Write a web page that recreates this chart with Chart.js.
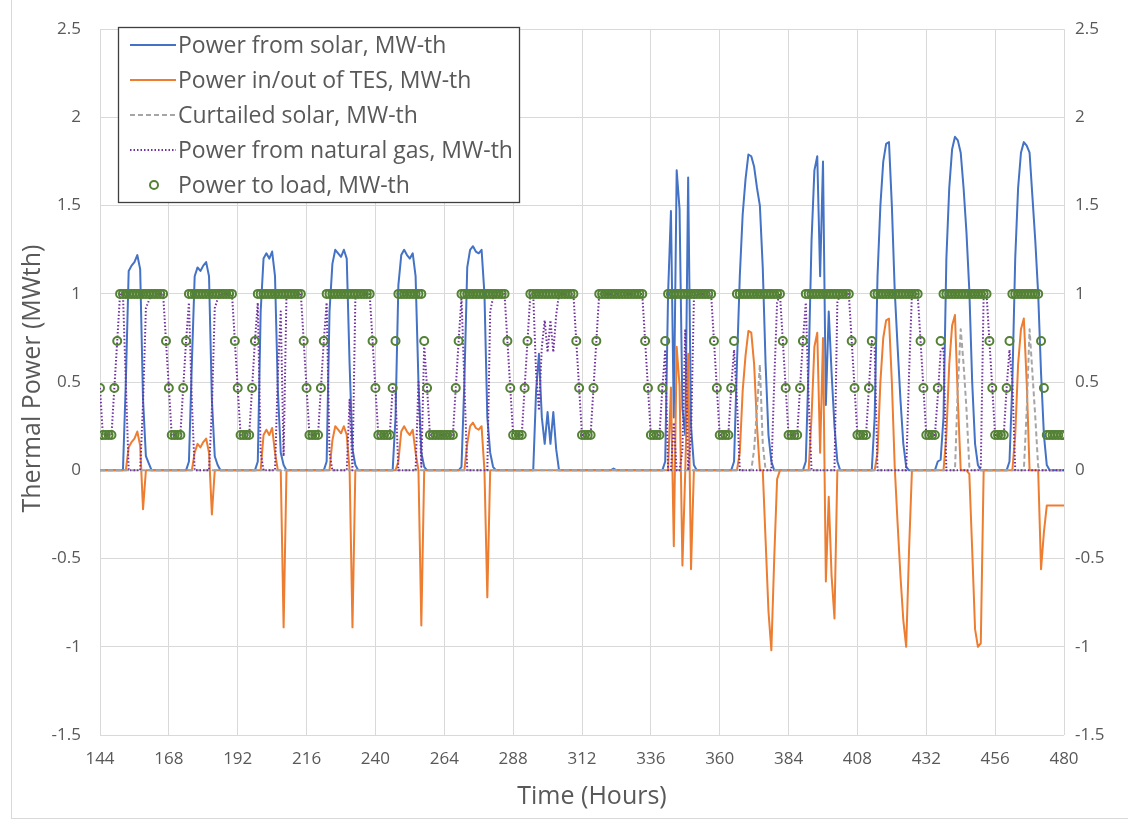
<!DOCTYPE html>
<html><head><meta charset="utf-8">
<script src="https://cdn.jsdelivr.net/npm/chart.js@4.4.1/dist/chart.umd.min.js"></script>
<style>
html,body{margin:0;padding:0;background:#fff;}
#wrap{position:relative;width:1128px;height:840px;overflow:hidden;}
#frame{position:absolute;left:11px;top:-2px;width:1130px;height:821px;border-left:1px solid #d9d9d9;border-bottom:1px solid #d9d9d9;box-sizing:border-box;}
canvas{display:block;position:absolute;left:0;top:0;}
</style></head><body>
<div id="wrap"><div id="frame"></div><canvas id="c" width="1128" height="840"></canvas></div>
<script>
// ---- axis ticks ----
const xTicks = [144,168,192,216,240,264,288,312,336,360,384,408,432,456,480];
const yTicks = [-1.5,-1,-0.5,0,0.5,1,1.5,2,2.5];
// hourly time stamps 144..480
const hours = [];
for (let h = 144; h <= 480; h++) hours.push(h);

// ---- series (one row per day, 24 hourly values; last value = hour 480) ----
const solar = [
0,0,0,0,0,0,0,0,0,0.5,1.13,1.16,1.18,1.22,1.14,0.4,0.08,0.04,0,0,0,0,0,0,
0,0,0,0,0,0,0,0.05,0.6,1.1,1.15,1.13,1.16,1.18,1.1,0.4,0.08,0.03,0,0,0,0,0,0,
0,0,0,0,0,0,0,0.05,0.9,1.2,1.23,1.2,1.24,1.1,0.45,0.1,0.03,0,0,0,0,0,0,0,
0,0,0,0,0,0,0,0.05,0.9,1.17,1.25,1.23,1.21,1.25,1.2,0.6,0.12,0.03,0,0,0,0,0,0,
0,0,0,0,0,0,0,0.3,1.05,1.22,1.25,1.22,1.2,1.23,1.1,0.5,0.1,0.02,0,0,0,0,0,0,
0,0,0,0,0,0,0.02,0.5,1.15,1.25,1.27,1.24,1.23,1.25,1.0,0.3,0.1,0.02,0,0,0,0,0,0,
0,0,0,0,0,0,0,0,0.45,0.66,0.3,0.15,0.33,0.15,0.33,0.12,0,0,0,0,0,0,0,0,
0,0,0,0,0,0,0,0,0,0,0,0.01,0,0,0,0,0,0,0,0,0,0,0,0,
0,0,0,0,0,0.05,1.0,1.47,0.3,1.7,1.48,0.35,0.2,1.66,0.25,0.03,0,0,0,0,0,0,0,0,
0,0,0,0,0,0.05,0.6,1.1,1.45,1.65,1.79,1.78,1.72,1.6,1.5,1.15,0.6,0.2,0.05,0,0,0,0,0,
0,0,0,0,0,0,0.05,0.6,1.3,1.7,1.78,1.1,1.75,0.37,0.9,0.55,0.25,0.05,0,0,0,0,0,0,
0,0,0,0,0,0,0.3,1.1,1.5,1.75,1.85,1.86,1.5,1.02,0.7,0.4,0.15,0.02,0,0,0,0,0,0,
0,0,0,0,0.05,0.06,0.3,1.2,1.6,1.82,1.89,1.87,1.8,1.6,1.35,1.02,0.5,0.15,0.03,0,0,0,0,0,
0,0,0,0,0,0.05,0.5,1.2,1.6,1.8,1.86,1.84,1.8,1.55,1.3,1.0,0.55,0.2,0.03,0,0,0,0,0,
0];
const tes = [
0,0,0,0,0,0,0,0,0,0,0.13,0.16,0.18,0.22,0.14,-0.22,0,0,0,0,0,0,0,0,
0,0,0,0,0,0,0,0,0,0.1,0.15,0.13,0.16,0.18,0.1,-0.25,0,0,0,0,0,0,0,0,
0,0,0,0,0,0,0,0,0,0.2,0.23,0.2,0.24,0.1,0,0,-0.89,0,0,0,0,0,0,0,
0,0,0,0,0,0,0,0,0,0.17,0.25,0.23,0.21,0.25,0.2,0,-0.89,0,0,0,0,0,0,0,
0,0,0,0,0,0,0,0,0.05,0.22,0.25,0.22,0.2,0.23,0.1,0,-0.88,0,0,0,0,0,0,0,
0,0,0,0,0,0,0,0,0.15,0.25,0.27,0.24,0.23,0.25,0,-0.72,0,0,0,0,0,0,0,0,
0,0,0,0,0,0,0,0,0,0,0,0,0,0,0,0,0,0,0,0,0,0,0,0,
0,0,0,0,0,0,0,0,0,0,0,0,0,0,0,0,0,0,0,0,0,0,0,0,
0,0,0,0,0,0,0,0.47,-0.43,0.7,0.48,-0.54,0,0.66,-0.56,0,0,0,0,0,0,0,0,0,
0,0,0,0,0,0,0,0.1,0.45,0.65,0.79,0.78,0.6,0.25,0,0,-0.4,-0.8,-1.02,-0.5,-0.05,0,0,0,
0,0,0,0,0,0,0,0,0.3,0.7,0.78,0.1,0.75,-0.63,-0.15,-0.6,-0.84,0,0,0,0,0,0,0,
0,0,0,0,0,0,0,0.1,0.5,0.75,0.85,0.86,0.5,0.02,-0.3,-0.6,-0.85,-1.0,-0.45,0,0,0,0,0,
0,0,0,0,0,0,0,0.2,0.6,0.82,0.88,0.4,0,0,0,-0.02,-0.45,-0.9,-1.0,-0.98,0,0,0,0,
0,0,0,0,0,0,0,0.2,0.6,0.8,0.86,0.5,0,0,0,0,-0.56,-0.35,-0.2,-0.2,-0.2,-0.2,-0.2,-0.2,
-0.2];
const curtailed = [
0,0,0,0,0,0,0,0,0,0,0,0,0,0,0,0,0,0,0,0,0,0,0,0,
0,0,0,0,0,0,0,0,0,0,0,0,0,0,0,0,0,0,0,0,0,0,0,0,
0,0,0,0,0,0,0,0,0,0,0,0,0,0,0,0,0,0,0,0,0,0,0,0,
0,0,0,0,0,0,0,0,0,0,0,0,0,0,0,0,0,0,0,0,0,0,0,0,
0,0,0,0,0,0,0,0,0,0,0,0,0,0,0,0,0,0,0,0,0,0,0,0,
0,0,0,0,0,0,0,0,0,0,0,0,0,0,0,0,0,0,0,0,0,0,0,0,
0,0,0,0,0,0,0,0,0,0,0,0,0,0,0,0,0,0,0,0,0,0,0,0,
0,0,0,0,0,0,0,0,0,0,0,0,0,0,0,0,0,0,0,0,0,0,0,0,
0,0,0,0,0,0,0,0,0,0,0,0,0,0,0,0,0,0,0,0,0,0,0,0,
0,0,0,0,0,0,0,0,0,0,0,0,0.12,0.35,0.6,0.15,0,0,0,0,0,0,0,0,
0,0,0,0,0,0,0,0,0,0,0,0,0,0,0,0,0,0,0,0,0,0,0,0,
0,0,0,0,0,0,0,0,0,0,0,0,0,0,0,0,0,0,0,0,0,0,0,0,
0,0,0,0,0,0,0,0,0,0,0,0.47,0.8,0.6,0.35,0.02,0,0,0,0,0,0,0,0,
0,0,0,0,0,0,0,0,0,0,0,0.34,0.8,0.55,0.3,0.02,0,0,0,0,0,0,0,0,
0];
const gas = [
0.467,0.2,0.2,0.2,0.2,0.467,0.733,1,1,0.5,0,0,0,0,0,0.38,0.92,0.96,1,1,1,1,1,0.733,
0.467,0.2,0.2,0.2,0.2,0.467,0.733,0.95,0.4,0,0,0,0,0,0,0.35,0.92,0.97,1,1,1,1,1,0.733,
0.467,0.2,0.2,0.2,0.2,0.467,0.733,0.95,0.1,0,0,0,0,0,0.55,0.9,0.08,1,1,1,1,1,1,0.733,
0.467,0.2,0.2,0.2,0.2,0.467,0.733,0.95,0.1,0,0,0,0,0,0,0.4,0,0.97,1,1,1,1,1,0.733,
0.467,0.2,0.2,0.2,0.2,0.2,0.467,0.43,0,0,0,0,0,0,0,0.5,0.02,0.71,0.467,0.2,0.2,0.2,0.2,0.2,
0.2,0.2,0.2,0.2,0.467,0.733,0.98,0.5,0,0,0,0,0,0,0,0,0.9,0.98,1,1,1,1,0.733,0.467,
0.2,0.2,0.2,0.2,0.467,0.733,1,1,0.55,0.34,0.7,0.85,0.67,0.85,0.67,0.88,1,1,1,1,1,1,0.733,0.467,
0.2,0.2,0.2,0.2,0.467,0.733,1,1,1,1,1,0.99,1,1,1,1,1,1,1,1,1,1,0.733,0.467,
0.2,0.2,0.2,0.2,0.467,0.683,0,0,0.27,0,0,0.11,0.8,0,0.19,0.97,1,1,1,1,1,1,0.733,0.467,
0.2,0.2,0.2,0.2,0.467,0.683,0.4,0,0,0,0,0,0,0,0,0,0,0,0,0.5,0.95,1,0.733,0.467,
0.2,0.2,0.2,0.2,0.467,0.733,0.95,0.4,0,0,0,0,0,0,0,0,0,0.95,1,1,1,1,0.733,0.467,
0.2,0.2,0.2,0.2,0.467,0.733,0.7,0,0,0,0,0,0,0,0,0,0,0,0.55,1,1,1,0.733,0.467,
0.2,0.2,0.2,0.2,0.417,0.673,0.7,0,0,0,0,0,0,0,0,0,0,0,0,0.02,1,1,0.733,0.467,
0.2,0.2,0.2,0.2,0.467,0.683,0.5,0,0,0,0,0,0,0,0,0,0,0,0,0,0,0,0,0,
0];
const load = [
0.467,0.2,0.2,0.2,0.2,0.467,0.733,1,1,1,1,1,1,1,1,1,1,1,1,1,1,1,1,0.733,
0.467,0.2,0.2,0.2,0.2,0.467,0.733,1,1,1,1,1,1,1,1,1,1,1,1,1,1,1,1,0.733,
0.467,0.2,0.2,0.2,0.2,0.467,0.733,1,1,1,1,1,1,1,1,1,1,1,1,1,1,1,1,0.733,
0.467,0.2,0.2,0.2,0.2,0.467,0.733,1,1,1,1,1,1,1,1,1,1,1,1,1,1,1,1,0.733,
0.467,0.2,0.2,0.2,0.2,0.2,0.467,0.733,1,1,1,1,1,1,1,1,1,0.733,0.467,0.2,0.2,0.2,0.2,0.2,
0.2,0.2,0.2,0.2,0.467,0.733,1,1,1,1,1,1,1,1,1,1,1,1,1,1,1,1,0.733,0.467,
0.2,0.2,0.2,0.2,0.467,0.733,1,1,1,1,1,1,1,1,1,1,1,1,1,1,1,1,0.733,0.467,
0.2,0.2,0.2,0.2,0.467,0.733,1,1,1,1,1,1,1,1,1,1,1,1,1,1,1,1,0.733,0.467,
0.2,0.2,0.2,0.2,0.467,0.733,1,1,1,1,1,1,1,1,1,1,1,1,1,1,1,1,0.733,0.467,
0.2,0.2,0.2,0.2,0.467,0.733,1,1,1,1,1,1,1,1,1,1,1,1,1,1,1,1,0.733,0.467,
0.2,0.2,0.2,0.2,0.467,0.733,1,1,1,1,1,1,1,1,1,1,1,1,1,1,1,1,0.733,0.467,
0.2,0.2,0.2,0.2,0.467,0.733,1,1,1,1,1,1,1,1,1,1,1,1,1,1,1,1,0.733,0.467,
0.2,0.2,0.2,0.2,0.467,0.733,1,1,1,1,1,1,1,1,1,1,1,1,1,1,1,1,0.733,0.467,
0.2,0.2,0.2,0.2,0.467,0.733,1,1,1,1,1,1,1,1,1,1,0.733,0.467,0.2,0.2,0.2,0.2,0.2,0.2,
0.2];

const seriesNames = ['Power from solar, MW-th','Power in/out of TES, MW-th','Curtailed solar, MW-th','Power from natural gas, MW-th','Power to load, MW-th'];
const xTitle = 'Time (Hours)';
const yTitle = 'Thermal Power (MWth)';

const FONT = "'Open Sans', 'Liberation Sans', sans-serif";
const TXT = '#595959';
const GRID = '#d9d9d9';

const area = {left:100, right:1064, top:22, bottom:735};

const titles = {
  id:'titles',
  afterDraw(chart){
    const ctx = chart.ctx;
    ctx.save();
    ctx.fillStyle = TXT;
    ctx.font = "25px " + FONT;
    ctx.textAlign = 'center'; ctx.textBaseline = 'middle';
    ctx.fillText(xTitle, (area.left+area.right)/2 + 10, 797);
    ctx.translate(33, (area.top+area.bottom)/2);
    ctx.rotate(-Math.PI/2);
    ctx.fillText(yTitle, 0, 0);
    ctx.restore();
  }
};

const boxLegend = {
  id:'boxLegend',
  afterDatasetsDraw(chart){
    const ctx = chart.ctx;
    ctx.save();
    const L=118.5, T=27.5, W=401, H=175;
    ctx.fillStyle='#fff'; ctx.fillRect(L,T,W,H);
    ctx.strokeStyle='#3f3f3f'; ctx.lineWidth=1.3; ctx.strokeRect(L,T,W,H);
    const rows=[45,80,115,150,185];
    chart.data.datasets.forEach((ds,i)=>{
      const y=rows[i];
      if (ds.showLine === false) {
        ctx.beginPath(); ctx.arc(154,y,ds.pointRadius,0,Math.PI*2);
        ctx.strokeStyle=ds.pointBorderColor; ctx.lineWidth=ds.pointBorderWidth; ctx.stroke();
      } else {
        ctx.beginPath(); ctx.moveTo(130,y); ctx.lineTo(176,y);
        ctx.strokeStyle=ds.borderColor; ctx.lineWidth=ds.borderWidth;
        ctx.setLineDash(ds.borderDash||[]);
        ctx.stroke(); ctx.setLineDash([]);
      }
      ctx.fillStyle=TXT; ctx.font="23px "+FONT; ctx.textAlign='left'; ctx.textBaseline='middle';
      ctx.fillText(ds.label,178,y+1);
    });
    ctx.restore();
  }
};

const fmt = v => String(v);

const ctx = document.getElementById('c').getContext('2d');
new Chart(ctx, {
  type:'line',
  data:{
    labels: hours,
    datasets:[
      {label:seriesNames[0], data:solar, borderColor:'#4472C4', borderWidth:2, pointRadius:0, tension:0, order:5},
      {label:seriesNames[1], data:tes, borderColor:'#ED7D31', borderWidth:2, pointRadius:0, tension:0, order:4},
      {label:seriesNames[2], data:curtailed, borderColor:'#A5A5A5', borderWidth:2, borderDash:[5,3], pointRadius:0, tension:0, order:3},
      {label:seriesNames[3], data:gas, borderColor:'#7030A0', borderWidth:2, borderDash:[1.5,2], pointRadius:0, tension:0, order:2},
      {label:seriesNames[4], data:load, showLine:false, pointRadius:4, pointBorderWidth:2, pointBorderColor:'#548235', pointBackgroundColor:'rgba(0,0,0,0)', borderColor:'#548235', order:1}
    ]
  },
  options:{
    responsive:false, animation:false, devicePixelRatio:1,
    layout:{padding:{top:area.top, left:0, right:0, bottom:0}},
    plugins:{legend:{display:false}, tooltip:{enabled:false}},
    elements:{line:{borderJoinStyle:'round'}},
    scales:{
      x:{type:'linear', min:144, max:480,
         afterBuildTicks(s){ s.ticks = xTicks.map(v=>({value:v})); },
         afterFit(s){ s.height = 840 - area.bottom; },
         grid:{color:GRID, lineWidth:1, drawTicks:false},
         border:{display:false},
         ticks:{color:TXT, font:{family:FONT, size:17}, padding:14, maxRotation:0, autoSkip:false, callback:fmt}
      },
      y:{position:'left', min:-1.5, max:2.5,
         afterBuildTicks(s){ s.ticks = yTicks.map(v=>({value:v})); },
         afterFit(s){ s.width = area.left; },
         grid:{color:GRID, lineWidth:1, drawTicks:false},
         border:{display:false},
         ticks:{color:TXT, font:{family:FONT, size:17}, padding:19, callback:fmt}
      },
      y2:{position:'right', min:-1.5, max:2.5,
         afterBuildTicks(s){ s.ticks = yTicks.map(v=>({value:v})); },
         afterFit(s){ s.width = 1128 - area.right; },
         grid:{display:false, drawTicks:false},
         border:{display:false},
         ticks:{color:TXT, font:{family:FONT, size:17}, padding:11, callback:fmt}
      }
    }
  },
  plugins:[boxLegend, titles]
});
</script>
</body></html>
